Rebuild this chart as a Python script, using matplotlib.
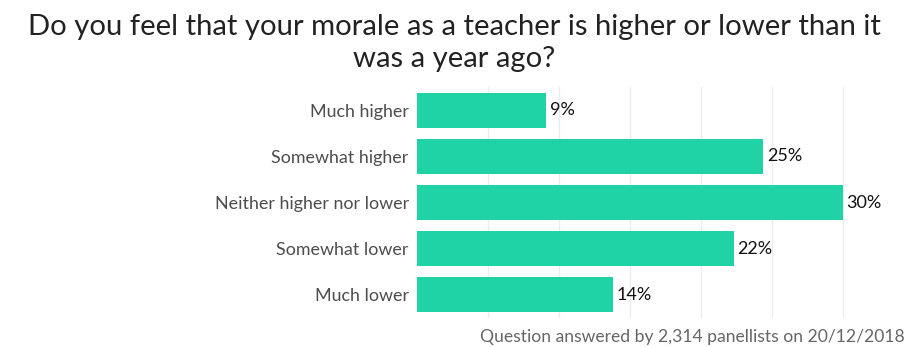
import matplotlib.pyplot as plt

plt.rcParams['font.family'] = ['Lato', 'DejaVu Sans']

categories = ['Much higher', 'Somewhat higher', 'Neither higher nor lower',
              'Somewhat lower', 'Much lower']
values = [9.1, 24.4, 30.0, 22.3, 13.8]
value_labels = ['9%', '25%', '30%', '22%', '14%']
title = 'Do you feel that your morale as a teacher is higher or lower than it\nwas a year ago?'
caption = 'Question answered by 2,314 panellists on 20/12/2018'

fig = plt.figure(figsize=(9.08, 3.47), dpi=100)
ax = fig.add_axes([417 / 908, 1 - 318 / 347, (905 - 417) / 908, 231 / 347])

y = list(range(len(categories)))
ax.barh(y, values, height=0.76, color='#1fd3a6', zorder=2)
for yi, v, lab in zip(y, values, value_labels):
    ax.text(v + 0.25, yi, lab, va='center', ha='left', fontsize=13, color='#111111')

ax.set_yticks(y)
ax.set_yticklabels(categories, fontsize=12.9, color='#4d4d4d')
ax.set_ylim(4.5, -0.5)
ax.set_xlim(0, 30 * (905 - 417) / (843 - 417))
ax.set_xticks([5, 10, 15, 20, 25, 30])
ax.tick_params(axis='x', length=0, labelbottom=False)
ax.tick_params(axis='y', length=0, pad=6)
ax.grid(axis='x', color='#ececec', linewidth=1, zorder=0)
for s in ax.spines.values():
    s.set_visible(False)

fig.text(0.5, 1 - 43 / 347, title, ha='center', va='center', fontsize=21.1,
         color='#222222', linespacing=1.3)
fig.text(905 / 908, 1 - 337 / 347, caption, ha='right', va='center',
         fontsize=12.6, color='#666666')

fig.savefig('out.png', dpi=100)
